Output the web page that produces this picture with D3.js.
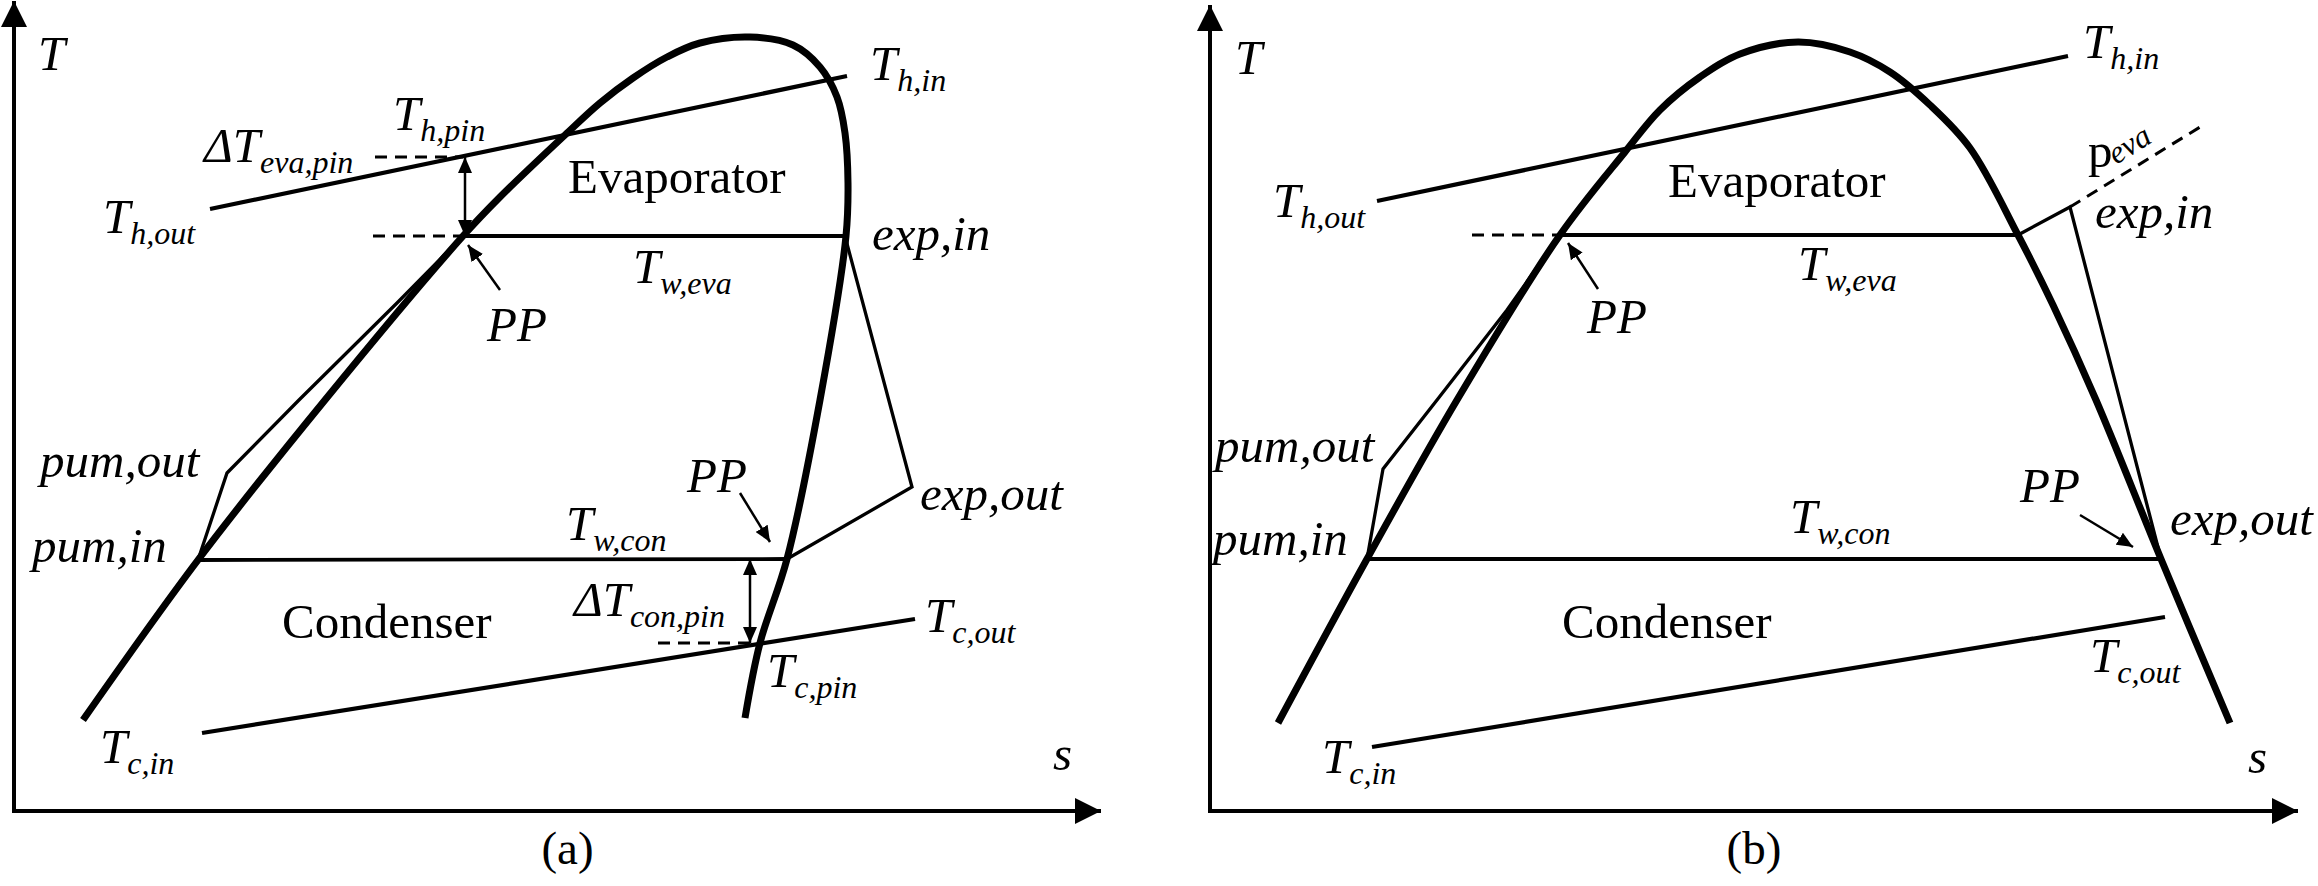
<!DOCTYPE html>
<html>
<head>
<meta charset="utf-8">
<script src="https://cdn.jsdelivr.net/npm/d3@7"></script>
<style>
  html, body { margin: 0; padding: 0; background: #fff; }
  svg { display: block; }
  text { font-family: "Liberation Serif", "Times New Roman", "DejaVu Serif", serif; fill: #000; }
</style>
</head>
<body>
<svg id="chart" width="2318" height="886"></svg>
<script>
// ---------- DATA (entropy s, temperature T in arbitrary diagram units) ----------
// Panel (a)
const domeA = [[69,91],[184,251],[311,411],[449,575],[486,614],[551,676],[586,708],[619,733],[653,754],[686,768],[736,774],[779,766],[806,744],[823,714],[831,678],[834,628],[832,575],[806,411],[773,252],[746,168],[731,93]];
const hotA = [[196,602],[833,735]];
const coldA = [[188,78],[901,192]];
const evapA = [[449,575],[831,575]];
const condA = [[184,251],[773,252]];
const pumpA = [[184,251],[213,338],[285,411],[384,509],[449,575]];
const expanderA = [[832,571],[898,324],[773,252]];
const dashA = [[[361,654],[449,654]],[[359,575],[449,575]],[[644,168],[746,168]]];
const dblArrowA = [[[451,575],[451,654]],[[736,252],[736,168]]];
const ppArrowA = [[[486,521],[454,566]],[[726,318],[756,269]]];
const labelsA = [
  {s:24,T:741,t:"T"},
  {s:1039,T:41,t:"s"},
  {s:856,T:731,t:"T",sub:"h,in"},
  {s:190,T:649,t:"ΔT",sub:"eva,pin"},
  {s:379,T:681,t:"T",sub:"h,pin"},
  {s:89,T:578,t:"T",sub:"h,out"},
  {s:554,T:618,t:"Evaporator",roman:true},
  {s:858,T:561,t:"exp,in"},
  {s:619,T:528,t:"T",sub:"w,eva"},
  {s:473,T:470,t:"PP"},
  {s:26,T:334,t:"pum,out"},
  {s:18,T:249,t:"pum,in"},
  {s:552,T:271,t:"T",sub:"w,con"},
  {s:673,T:319,t:"PP"},
  {s:906,T:301,t:"exp,out"},
  {s:711,T:195,t:"ΔT",sub:"con,pin",anchor:"end"},
  {s:268,T:173,t:"Condenser",roman:true},
  {s:911,T:179,t:"T",sub:"c,out"},
  {s:753,T:124,t:"T",sub:"c,pin"},
  {s:86,T:48,t:"T",sub:"c,in"}
];

// Panel (b)
const domeB = [[68,88],[157,252],[247,411],[350,576],[415,659],[450,701],[490,734],[530,757],[588,769],[640,759],[680,739],[720,706],[760,663],[808,576],[843,506],[886,411],[951,252],[1020,88]];
const hotB = [[167,610],[858,755]];
const coldB = [[162,64],[955,194]];
const evapB = [[350,576],[808,576]];
const condB = [[157,252],[951,252]];
const pumpB = [[157,252],[173,342],[227,411],[297,501],[350,576]];
const expanderB = [[808,576],[860,604],[951,252]];
const dashB = [[[262,576],[350,576]],[[860,604],[995,687]]];
const dblArrowB = [];
const ppArrowB = [[[388,522],[358,568]],[[870,296],[923,264]]];
const labelsB = [
  {s:25,T:737,t:"T"},
  {s:1038,T:38,t:"s"},
  {s:873,T:753,t:"T",sub:"h,in"},
  {s:63,T:594,t:"T",sub:"h,out"},
  {s:458,T:614,t:"Evaporator",roman:true},
  {s:885,T:583,t:"exp,in"},
  {s:588,T:531,t:"T",sub:"w,eva"},
  {s:377,T:478,t:"PP"},
  {s:5,T:349,t:"pum,out"},
  {s:3,T:256,t:"pum,in"},
  {s:580,T:278,t:"T",sub:"w,con"},
  {s:810,T:309,t:"PP"},
  {s:960,T:276,t:"exp,out"},
  {s:352,T:173,t:"Condenser",roman:true},
  {s:880,T:139,t:"T",sub:"c,out"},
  {s:112,T:38,t:"T",sub:"c,in"}
];
const pEvaB = {p:[878,644], sub:[906,646], angle:-32};

const panels = [
  {id:"a", caption:"(a)", capShift:10, left:14, right:1101, sMax:1087, TMax:810, dome:domeA, hot:hotA, cold:coldA, evap:evapA, cond:condA, pump:pumpA, expander:expanderA, dash:dashA, dbl:dblArrowA, pp:ppArrowA, labels:labelsA},
  {id:"b", caption:"(b)", capShift:0, left:1210, right:2298, sMax:1088, TMax:806, dome:domeB, hot:hotB, cold:coldB, evap:evapB, cond:condB, pump:pumpB, expander:expanderB, dash:dashB, dbl:dblArrowB, pp:ppArrowB, labels:labelsB, pEva:pEvaB}
];

// ---------- DRAWING ----------
const svg = d3.select("#chart");
svg.append("rect").attr("width",2318).attr("height",886).attr("fill","#fff");
const defs = svg.append("defs");
function marker(id, len, half) {
  defs.append("marker").attr("id", id)
    .attr("markerUnits","userSpaceOnUse")
    .attr("markerWidth", len).attr("markerHeight", half*2)
    .attr("refX", len).attr("refY", half)
    .attr("orient","auto-start-reverse")
    .append("path").attr("d", `M0,0L${len},${half}L0,${half*2}Z`).attr("fill","#000");
}
marker("axisArrow", 26, 13);
marker("smallArrow", 16, 7);

const baseY = 811;
const MAIN = 49, SUB = 32;

panels.forEach(p => {
  const x = d3.scaleLinear().domain([0, p.sMax]).range([p.left, p.right]);
  const y = d3.scaleLinear().domain([0, 811]).range([baseY, 0]);
  const g = svg.append("g").attr("id","panel-"+p.id);
  const line = d3.line().x(d => x(d[0])).y(d => y(d[1]));

  // axes
  g.append("line").attr("x1", x(0)).attr("y1", y(0)+2).attr("x2", x(0)).attr("y2", y(p.TMax))
    .attr("stroke","#000").attr("stroke-width",4).attr("marker-end","url(#axisArrow)");
  g.append("line").attr("x1", x(0)-2).attr("y1", y(0)).attr("x2", x(p.sMax)).attr("y2", y(0))
    .attr("stroke","#000").attr("stroke-width",4).attr("marker-end","url(#axisArrow)");

  // heat source / sink lines
  [p.hot, p.cold].forEach(d => g.append("path").attr("d", line(d)).attr("fill","none")
    .attr("stroke","#000").attr("stroke-width",4.2));

  // evaporation / condensation lines
  [p.evap, p.cond].forEach(d => g.append("path").attr("d", line(d)).attr("fill","none")
    .attr("stroke","#000").attr("stroke-width",3.8));

  // pump and expander
  [p.pump, p.expander].forEach(d => g.append("path").attr("d", line(d)).attr("fill","none")
    .attr("stroke","#000").attr("stroke-width",3.3).attr("stroke-linejoin","miter"));

  // dashed helpers
  p.dash.forEach(d => g.append("path").attr("d", line(d)).attr("fill","none")
    .attr("stroke","#000").attr("stroke-width",3).attr("stroke-dasharray","12,8"));

  // saturation dome
  const domeLine = d3.line().x(d => x(d[0])).y(d => y(d[1])).curve(d3.curveCatmullRom.alpha(0.5));
  g.append("path").attr("d", domeLine(p.dome)).attr("fill","none")
    .attr("stroke","#000").attr("stroke-width",7);

  // double arrows
  p.dbl.forEach(d => g.append("line")
    .attr("x1", x(d[0][0])).attr("y1", y(d[0][1])).attr("x2", x(d[1][0])).attr("y2", y(d[1][1]))
    .attr("stroke","#000").attr("stroke-width",2.5)
    .attr("marker-start","url(#smallArrow)").attr("marker-end","url(#smallArrow)"));

  // pinch-point arrows
  p.pp.forEach(d => g.append("line")
    .attr("x1", x(d[0][0])).attr("y1", y(d[0][1])).attr("x2", x(d[1][0])).attr("y2", y(d[1][1]))
    .attr("stroke","#000").attr("stroke-width",2.5).attr("marker-end","url(#smallArrow)"));

  // labels
  p.labels.forEach(L => {
    const t = g.append("text").attr("x", x(L.s)).attr("y", y(L.T))
      .attr("text-anchor", L.anchor || "start")
      .attr("font-size", MAIN)
      .attr("font-style", L.roman ? "normal" : "italic");
    t.append("tspan").text(L.t);
    if (L.sub) t.append("tspan").attr("font-size", SUB).attr("dy", 11).text(L.sub);
  });

  if (p.pEva) {
    g.append("text").attr("x", x(p.pEva.p[0])).attr("y", y(p.pEva.p[1]))
      .attr("font-size", MAIN).text("p");
    const sx = x(p.pEva.sub[0]), sy = y(p.pEva.sub[1]);
    g.append("text").attr("transform", `translate(${sx},${sy}) rotate(${p.pEva.angle})`)
      .attr("font-size", SUB).attr("font-style","italic").text("eva");
  }

  // caption
  g.append("text").attr("x", (p.left + p.right)/2 + p.capShift).attr("y", 864)
    .attr("text-anchor","middle").attr("font-size", 47).text(p.caption);
});
</script>
</body>
</html>
